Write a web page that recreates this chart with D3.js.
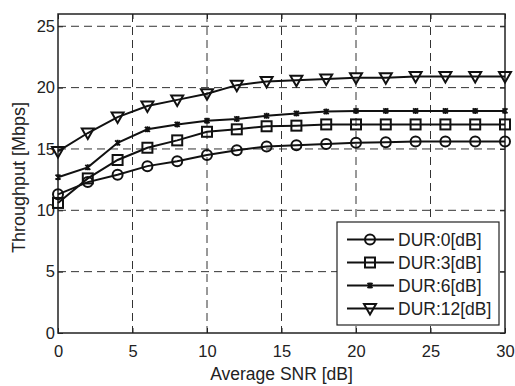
<!DOCTYPE html>
<html>
<head>
<meta charset="utf-8">
<script src="https://cdn.jsdelivr.net/npm/d3@7"></script>
<style>
  body { margin: 0; background: #fff; }
  text { font-family: "Liberation Sans", Arial, sans-serif; fill: #222; }
</style>
</head>
<body>
<svg id="chart" width="515" height="386"></svg>
<script>
// SNR values on x axis [dB]
var snr = [0, 2, 4, 6, 8, 10, 12, 14, 16, 18, 20, 22, 24, 26, 28, 30];

// throughput [Mbps]
var dur0 = [11.3, 12.3, 12.9, 13.6, 14.0, 14.5, 14.9, 15.2, 15.3, 15.4, 15.5, 15.55, 15.6, 15.6, 15.6, 15.6];
var dur3 = [10.6, 12.6, 14.1, 15.1, 15.7, 16.4, 16.6, 16.85, 16.9, 17.0, 17.0, 17.0, 17.0, 17.0, 17.0, 17.0];
var dur6 = [12.7, 13.5, 15.5, 16.6, 17.0, 17.3, 17.45, 17.7, 17.9, 18.05, 18.1, 18.1, 18.1, 18.1, 18.1, 18.1];
var dur12 = [14.8, 16.3, 17.6, 18.5, 19.0, 19.5, 20.2, 20.5, 20.6, 20.7, 20.8, 20.8, 20.9, 20.9, 20.9, 20.9];

var seriesNames = ["DUR:0[dB]", "DUR:3[dB]", "DUR:6[dB]", "DUR:12[dB]"];
var seriesValues = [dur0, dur3, dur6, dur12];
var markerTypes = ["circle", "square", "star", "triangle"];

var xTicks = [0, 5, 10, 15, 20, 25, 30];
var yTicks = [0, 5, 10, 15, 20, 25];

const svg = d3.select("#chart"),
    margin = {top: 14, right: 10, bottom: 53, left: 58},
    width = +svg.attr("width"),
    height = +svg.attr("height"),
    w = width - margin.left - margin.right,
    h = height - margin.top - margin.bottom;

const x = d3.scaleLinear().domain([0, 30]).range([0, w]);
const y = d3.scaleLinear().domain([0, 26]).range([h, 0]);

const g = svg.append("g")
    .attr("transform", "translate(" + margin.left + "," + margin.top + ")");

// grid
g.selectAll("line.vgrid").data(xTicks.slice(1, -1)).enter().append("line")
    .attr("x1", d => x(d)).attr("x2", d => x(d))
    .attr("y1", 0).attr("y2", h)
    .attr("stroke", "#333").attr("stroke-width", 1)
    .attr("stroke-dasharray", "8,5");
g.selectAll("line.hgrid").data(yTicks.slice(1)).enter().append("line")
    .attr("x1", 0).attr("x2", w)
    .attr("y1", d => y(d)).attr("y2", d => y(d))
    .attr("stroke", "#333").attr("stroke-width", 1)
    .attr("stroke-dasharray", "8,5");

// axes (ticks inward)
const xAxis = g.append("g")
    .attr("transform", "translate(0," + h + ")")
    .call(d3.axisBottom(x).tickValues(xTicks).tickSizeInner(-5).tickSizeOuter(0).tickPadding(12));
const yAxis = g.append("g")
    .call(d3.axisLeft(y).tickValues(yTicks).tickSizeInner(-5).tickSizeOuter(0).tickPadding(3));
g.append("g")
    .call(d3.axisTop(x).tickValues(xTicks).tickSizeInner(-5).tickSizeOuter(0).tickFormat(""));
g.append("g")
    .attr("transform", "translate(" + w + ",0)")
    .call(d3.axisRight(y).tickValues(yTicks).tickSizeInner(-5).tickSizeOuter(0).tickFormat(""));

svg.selectAll(".domain").remove();
svg.selectAll(".tick line").attr("stroke", "#222");
svg.selectAll(".tick text").style("font-size", "16.5px").attr("fill", "#222");

g.append("rect")
    .attr("width", w).attr("height", h)
    .attr("fill", "none").attr("stroke", "#222").attr("stroke-width", 1.5);

// axis labels
g.append("text")
    .attr("x", w / 2).attr("y", h + 47)
    .attr("text-anchor", "middle")
    .style("font-size", "17.5px")
    .text("Average SNR [dB]");
g.append("text")
    .attr("transform", "translate(" + (-33) + "," + (h / 2 + 4) + ") rotate(-90)")
    .attr("text-anchor", "middle")
    .style("font-size", "18px")
    .text("Throughput [Mbps]");

function drawMarker(sel, type) {
    if (type == "circle") {
        sel.append("circle").attr("r", 5);
    } else if (type == "square") {
        sel.append("rect").attr("x", -5).attr("y", -5).attr("width", 10).attr("height", 10);
    } else if (type == "triangle") {
        sel.append("path").attr("d", "M-6,-4.5L6,-4.5L0,6Z");
    } else {
        sel.append("path").attr("d", "M-2.5,-2.5L2.5,2.5M-2.5,2.5L2.5,-2.5M0,-3L0,3")
            .attr("stroke-width", 1.8);
    }
}

const line = d3.line()
    .x(d => x(d[0]))
    .y(d => y(d[1]));

seriesValues.forEach(function (vals, i) {
    var pts = snr.map((s, j) => [s, vals[j]]);
    g.append("path")
        .datum(pts)
        .attr("d", line)
        .attr("fill", "none")
        .attr("stroke", "#111")
        .attr("stroke-width", 2);
    var m = g.selectAll("g.m" + i).data(pts).enter().append("g")
        .attr("class", "m" + i)
        .attr("transform", d => "translate(" + x(d[0]) + "," + y(d[1]) + ")")
        .attr("fill", "none").attr("stroke", "#111").attr("stroke-width", 2);
    m.each(function () { drawMarker(d3.select(this), markerTypes[i]); });
});

// legend
const lg = svg.append("g").attr("transform", "translate(337,222)");
lg.append("rect").attr("width", 162).attr("height", 103)
    .attr("fill", "#fff").attr("stroke", "#222").attr("stroke-width", 1.2);
seriesNames.forEach(function (name, i) {
    var cy = 17.5 + i * 23;
    lg.append("line").attr("x1", 10).attr("x2", 57).attr("y1", cy).attr("y2", cy)
        .attr("stroke", "#111").attr("stroke-width", 2);
    var mk = lg.append("g").attr("transform", "translate(33," + cy + ")")
        .attr("fill", "none").attr("stroke", "#111").attr("stroke-width", 2);
    drawMarker(mk, markerTypes[i]);
    lg.append("text").attr("x", 61).attr("y", cy + 6.5)
        .style("font-size", "17.5px")
        .text(name);
});
</script>
</body>
</html>
